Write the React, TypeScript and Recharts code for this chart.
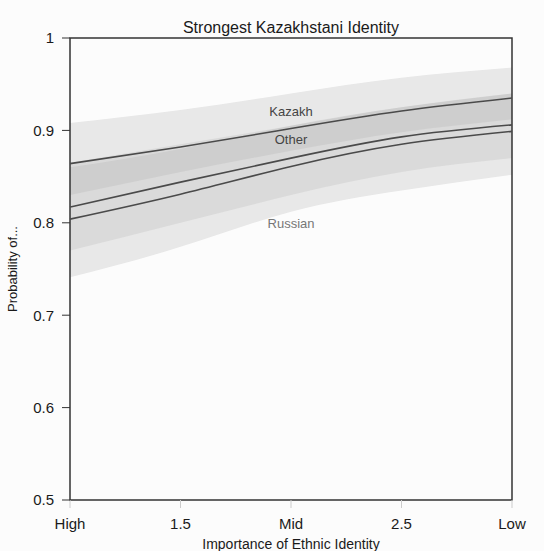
import { ComposedChart, Line, Area, XAxis, YAxis, ReferenceArea, ReferenceDot } from "recharts"

// importance of ethnic identity (1 = High, 2 = Mid, 3 = Low)
const xValues = [1, 1.5, 2, 2.5, 3]

// predicted probabilities
const kazakh = [0.864, 0.882, 0.902, 0.921, 0.935]
const other = [0.817, 0.844, 0.87, 0.893, 0.906]
const russian = [0.804, 0.831, 0.861, 0.885, 0.899]

// confidence bands
const kazakhLo = [0.83, 0.855, 0.878, 0.898, 0.912]
const kazakhHi = [0.908, 0.922, 0.94, 0.957, 0.968]
const otherLo = [0.77, 0.8, 0.83, 0.855, 0.87]
const otherHi = [0.865, 0.885, 0.905, 0.925, 0.94]
const russianLo = [0.741, 0.774, 0.812, 0.835, 0.852]
const russianHi = [0.86, 0.88, 0.905, 0.925, 0.94]

const xTicks = [1, 1.5, 2, 2.5, 3]
const xTickLabels: Record<number, string> = { 1: "High", 1.5: "1.5", 2: "Mid", 2.5: "2.5", 3: "Low" }
const yTicks = [0.5, 0.6, 0.7, 0.8, 0.9, 1]

const data = xValues.map((x, i) => ({
  x,
  kazakh: kazakh[i],
  other: other[i],
  russian: russian[i],
  kazakhBand: [kazakhLo[i], kazakhHi[i]],
  otherBand: [otherLo[i], otherHi[i]],
  russianBand: [russianLo[i], russianHi[i]]
}))

const font = "'Liberation Sans', Arial, sans-serif"

const groupLabel = (text: string, color: string) => (props: any) => {
  const { viewBox } = props
  return (
    <text x={viewBox.x} y={viewBox.y} textAnchor="middle" dominantBaseline="central" fill={color} fontSize={13} fontFamily={font}>
      {text}
    </text>
  )
}

export default function App() {
  return (
    <div style={{ position: "fixed", left: 0, top: 0, width: 544, height: 551, background: "#fcfcfc", overflow: "hidden" }}>
      <div style={{ position: "absolute", left: 70, width: 442, top: 19, textAlign: "center", fontFamily: font, fontSize: 16, color: "#1a1a1a" }}>
        Strongest Kazakhstani Identity
      </div>
      <ComposedChart width={544} height={551} data={data} margin={{ top: 38, right: 32, bottom: 0, left: 0 }}>
        <XAxis
          dataKey="x"
          type="number"
          domain={[1, 3]}
          ticks={xTicks}
          tickFormatter={(v: number) => xTickLabels[v] ?? String(v)}
          height={51}
          axisLine={false}
          tickLine={{ stroke: "#ccc" }}
          tickSize={8}
          tickMargin={10}
          tick={{ fill: "#1a1a1a", fontSize: 15, fontFamily: font }}
          label={{ value: "Importance of Ethnic Identity", position: "insideBottom", offset: 2, fill: "#1a1a1a", fontSize: 14, fontFamily: font }}
        />
        <YAxis
          type="number"
          domain={[0.5, 1]}
          ticks={yTicks}
          tickFormatter={(v: number) => (v === 1 ? "1" : v.toFixed(1))}
          width={70}
          axisLine={false}
          tickLine={{ stroke: "#333" }}
          tickSize={8}
          tickMargin={8}
          tick={{ fill: "#1a1a1a", fontSize: 15, fontFamily: font }}
          label={{ value: "Probability of...", angle: -90, position: "insideLeft", offset: 12, fill: "#1a1a1a", fontSize: 13, fontFamily: font, style: { textAnchor: "middle" } }}
        />
        <Area dataKey="russianBand" type="natural" stroke="none" fill="#aaa" fillOpacity={0.25} isAnimationActive={false} />
        <Area dataKey="otherBand" type="natural" stroke="none" fill="#aaa" fillOpacity={0.22} isAnimationActive={false} />
        <Area dataKey="kazakhBand" type="natural" stroke="none" fill="#aaa" fillOpacity={0.25} isAnimationActive={false} />
        <Line dataKey="kazakh" type="natural" stroke="#4a4a4a" strokeWidth={1.6} dot={false} isAnimationActive={false} />
        <Line dataKey="other" type="natural" stroke="#4a4a4a" strokeWidth={1.6} dot={false} isAnimationActive={false} />
        <Line dataKey="russian" type="natural" stroke="#4a4a4a" strokeWidth={1.6} dot={false} isAnimationActive={false} />
        <ReferenceDot x={2} y={0.92} r={0} stroke="none" label={groupLabel("Kazakh", "#444")} />
        <ReferenceDot x={2} y={0.89} r={0} stroke="none" label={groupLabel("Other", "#444")} />
        <ReferenceDot x={2} y={0.799} r={0} stroke="none" label={groupLabel("Russian", "#777")} />
        <ReferenceArea x1={1} x2={3} y1={0.5} y2={1} fill="none" stroke="#333" strokeWidth={1.5} />
      </ComposedChart>
    </div>
  )
}
